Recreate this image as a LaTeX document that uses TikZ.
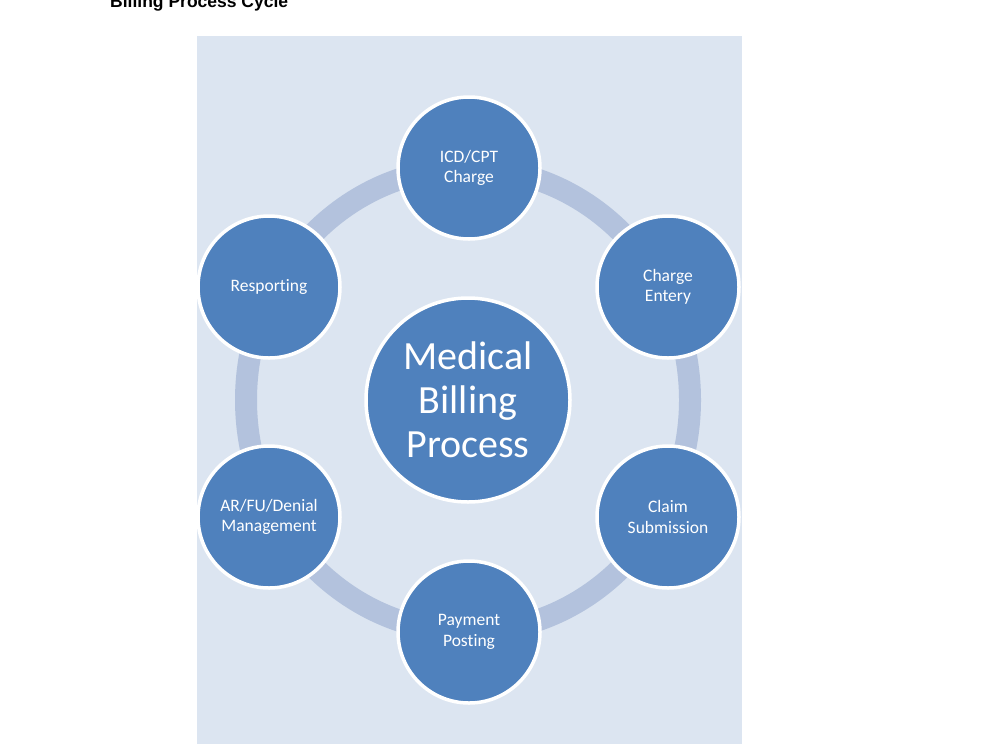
\documentclass[tikz,border=0pt]{standalone}
\usepackage{fontspec}
\setmainfont{Carlito}[Ligatures={NoCommon}]
\newfontfamily\titlefont{Liberation Sans}
\definecolor{bg}{HTML}{DCE5F1}
\definecolor{ringc}{HTML}{B3C2DD}
\definecolor{blob}{HTML}{4F81BD}
\begin{document}
\begin{tikzpicture}[x=1pt,y=-1pt,
  stage/.style={circle, fill=blob, draw=white, line width=3.5pt, minimum size=142pt,
    inner sep=0pt, align=center, text=white, font=\fontsize{17.5}{20.5}\selectfont},
  hub/.style={stage, minimum size=204pt, font=\fontsize{40}{44}\selectfont}]
\useasboundingbox (0,0) rectangle (1000,750);
\node[anchor=base west, inner sep=0pt, font=\titlefont\bfseries\fontsize{17.5}{20}\selectfont] (title) at (110,7) {Billing Process Cycle};
\fill[bg] (197,36) rectangle (742,744);
\draw[ringc, line width=22pt] (468,400) ellipse [x radius=222pt, y radius=232pt];
\node[hub] (hub) at (468,400) {Medical\\Billing\\Process};
\node[stage] (icd) at (469,168) {ICD/CPT\\Charge};
\node[stage] (entry) at (668,287) {Charge\\Entery};
\node[stage] (claim) at (668,517) {Claim\\Submission};
\node[stage] (pay) at (469,632) {Payment\\Posting};
\node[stage] (ar) at (269,517) {AR/FU/Denial\\Management};
\node[stage] (rep) at (269,287) {Resporting};
\end{tikzpicture}
\end{document}
